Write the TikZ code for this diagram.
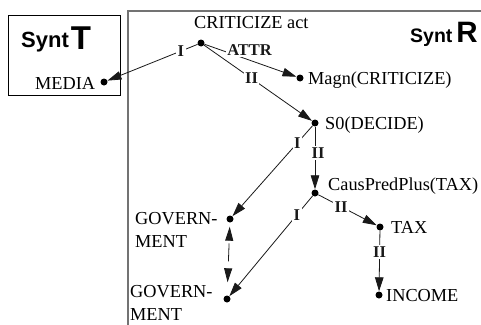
\documentclass[tikz,border=0pt]{standalone}
\usepackage{fontspec}
\setmainfont{Liberation Serif}
\newfontfamily\syntfont{Liberation Sans}
\usetikzlibrary{arrows.meta}
\begin{document}
\begin{tikzpicture}[x=1pt,y=-1pt,
  dot/.style={circle,fill=black,inner sep=0pt,minimum size=7pt},
  txt/.style={inner sep=0pt,font=\fontsize{18.3}{23}\selectfont},
  lbl/.style={fill=white,inner sep=1.5pt,font=\fontsize{16.5}{18}\selectfont\bfseries},
  arr/.style={-{Triangle[length=14pt,width=8.5pt]},line width=0.8pt,black!90},
  dasharr/.style={{Triangle[length=14pt,width=8pt]}-{Triangle[length=14pt,width=8pt]},
     line width=0.8pt,black!90,shorten <=4pt,shorten >=13pt,
     dash pattern=on 0pt off 3pt on 18pt off 40pt},
  synt/.style={inner sep=0pt,anchor=base west,font=\syntfont\bfseries},
]
\useasboundingbox (0,0) rectangle (481,324);
% frames
\draw[line width=0.8pt] (8,15) rectangle (120,95);
\draw[line width=1.6pt, black!55] (128,330) -- (128,11) -- (485,11);
\node[synt] (syntT) at (21,47) {\fontsize{22}{24}\selectfont Synt\kern2pt\raisebox{-2.5pt}{\fontsize{33}{33}\selectfont T}};
\node[synt] (syntR) at (410,42) {\fontsize{19.5}{22}\selectfont Synt\kern4pt\fontsize{29.5}{29}\selectfont R};
% dots
\node[dot] (crit) at (201,43) {};
\node[dot] (media) at (104,82) {};
\node[dot] (magn) at (300,78) {};
\node[dot] (s0) at (315,123) {};
\node[dot] (caus) at (315,193) {};
\node[dot] (tax) at (380,227) {};
\node[dot] (income) at (379,295) {};
\node[dot] (gov1) at (230,219) {};
\node[dot] (gov2) at (227,299) {};
% texts
\node[txt,anchor=base west] (critl) at (194,28) {CRITICIZE act};
\node[txt,anchor=base west] (medial) at (35,89) {MEDIA};
\node[txt,anchor=base west] (magnl) at (308,84) {Magn(CRITICIZE)};
\node[txt,anchor=base west] (s0l) at (325,129) {S0(DECIDE)};
\node[txt,anchor=base west] (causl) at (328,190) {CausPredPlus(TAX)};
\node[txt,anchor=base west] (taxl) at (391,233) {TAX};
\node[txt,anchor=base west] (incomel) at (386,301) {INCOME};
\node[txt,anchor=north west,align=left] (gov1l) at (135,212.5) {GOVERN-\\MENT};
\node[txt,anchor=north west,align=left] (gov2l) at (130,285.5) {GOVERN-\\MENT};
% edges
\draw[arr] (crit) -- node[lbl,pos=0.185] (e1) {I} (media);
\draw[arr] (crit) -- node[lbl,pos=0.49,yshift=10.5pt] (e2) {ATTR} (magn);
\draw[arr] (crit) -- node[lbl,pos=0.44] (e3) {II} (s0);
\draw[arr] (s0) -- node[lbl,pos=0.19] (e4) {I} (gov1);
\draw[arr] (s0) -- node[lbl,pos=0.42,xshift=3pt] (e5) {II} (caus);
\draw[arr] (caus) -- node[lbl,pos=0.19] (e6) {I} (gov2);
\draw[arr] (caus) -- node[lbl,pos=0.39] (e7) {II} (tax);
\draw[arr] (tax) -- node[lbl,pos=0.355] (e8) {II} (income);
\draw[dasharr] (gov1) -- (gov2);
\end{tikzpicture}
\end{document}
